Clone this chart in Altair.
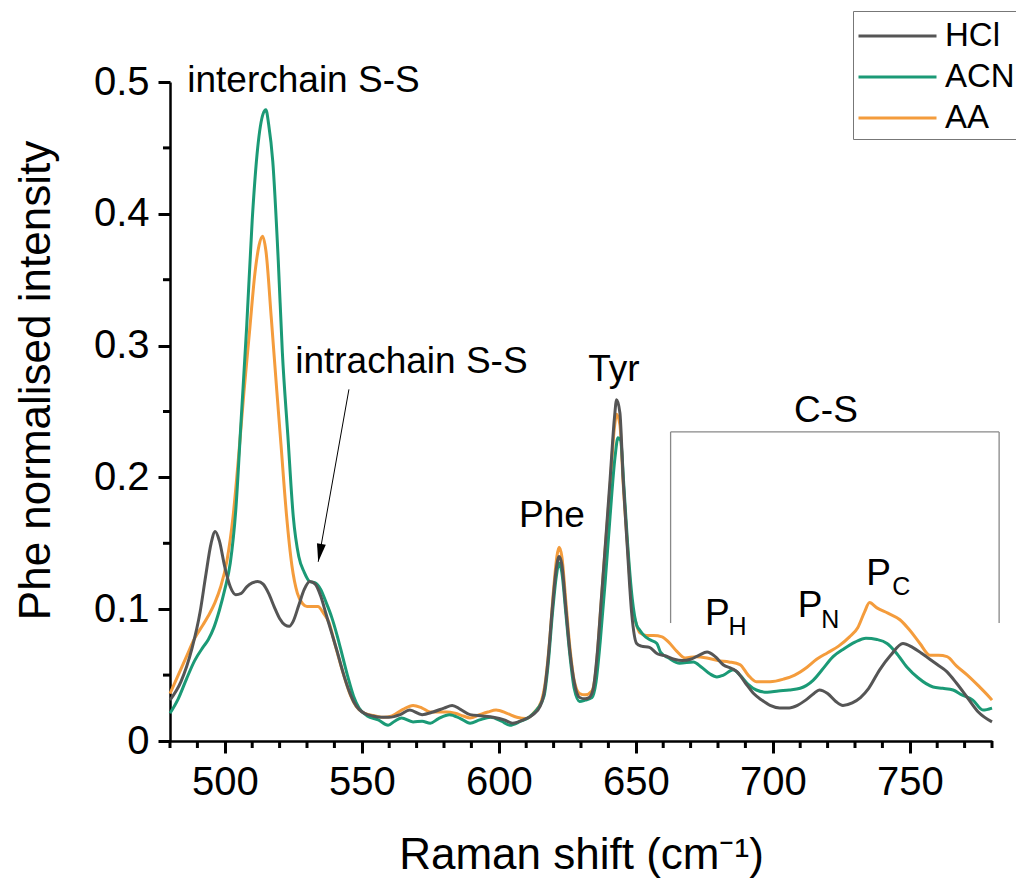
import altair as alt
import pandas as pd

# ---------------- data ----------------
hcl_x = [480, 484, 488, 491, 493, 495, 496.5, 498, 500, 502, 504, 506, 508, 510, 512, 514, 516, 518, 520, 522,
         523.5, 525, 527, 529, 531, 533, 535, 537, 539, 541, 543, 545, 547, 549, 551, 554, 557, 560, 564, 567.5,
         572, 576, 580, 583, 586, 589.5, 594, 598, 602, 605, 609, 612.5, 615, 616.5, 618, 619.5, 621, 622, 623,
         624.5, 626, 627.5, 629.5, 631.5, 633, 634.5, 636, 637.5, 639, 640.6, 642.2, 643, 644.2, 645.4, 646.9,
         648.5, 650.3, 652, 655, 658, 661, 664, 667, 670, 673, 676, 679, 682, 685, 687, 690, 693, 696, 699,
         702.5, 706, 709, 712, 715, 717, 720, 723, 725.6, 729, 732, 735, 739, 743, 747.5, 751, 754, 756, 760,
         763.6, 767, 771, 775, 780]
hcl_y = [0.031, 0.045, 0.070, 0.098, 0.125, 0.150, 0.159, 0.152, 0.132, 0.117, 0.111, 0.112, 0.117, 0.120, 0.121,
         0.119, 0.112, 0.102, 0.093, 0.088, 0.087, 0.091, 0.103, 0.115, 0.121, 0.119, 0.110, 0.096, 0.082, 0.068,
         0.053, 0.040, 0.030, 0.024, 0.021, 0.019, 0.018, 0.018, 0.020, 0.0235, 0.020, 0.022, 0.025, 0.027, 0.024,
         0.020, 0.019, 0.018, 0.016, 0.0135, 0.016, 0.020, 0.026, 0.036, 0.062, 0.100, 0.131, 0.140, 0.134, 0.100,
         0.067, 0.045, 0.033, 0.032, 0.033, 0.040, 0.068, 0.110, 0.152, 0.198, 0.245, 0.259, 0.249, 0.198, 0.147,
         0.097, 0.074, 0.072, 0.071, 0.066, 0.0645, 0.062, 0.061, 0.062, 0.065, 0.0675, 0.064, 0.0577, 0.055,
         0.0525, 0.044, 0.036, 0.031, 0.027, 0.025, 0.025, 0.027, 0.031, 0.036, 0.0387, 0.036, 0.030, 0.027,
         0.029, 0.033, 0.040, 0.054, 0.065, 0.074, 0.071, 0.067, 0.064, 0.058, 0.0525, 0.044, 0.033, 0.022, 0.0145]

acn_x = [480, 483, 486, 489, 492, 494, 496, 498, 500, 502, 504, 506, 508, 510, 512, 514, 515, 516, 517.5, 519.5,
         521, 523, 525, 527, 529, 531, 533, 535, 537, 539, 541, 543, 545, 547, 549, 552, 556, 559.6, 562, 564.5,
         568.7, 572, 575, 578, 582, 586, 589.5, 593, 597, 601, 604, 608, 611, 614, 616.5, 618, 619.5, 621, 622,
         623, 624.5, 626, 627.5, 629.5, 631.5, 634, 635.5, 637, 638.8, 640.6, 642.4, 643.5, 644.5, 645.6, 647,
         648.7, 650.3, 651.5, 653, 655, 657.7, 659, 662, 666, 671, 674, 677, 679.6, 682, 685.5, 688, 691, 694,
         698, 702, 706, 710, 714.7, 718, 722, 726, 730, 734, 738, 741.7, 745, 749, 753, 758.5, 762, 765.8, 769,
         773, 776.7, 780]
acn_y = [0.021, 0.032, 0.047, 0.061, 0.071, 0.077, 0.086, 0.099, 0.115, 0.135, 0.175, 0.245, 0.315, 0.395, 0.450,
         0.476, 0.479, 0.468, 0.440, 0.365, 0.295, 0.232, 0.170, 0.140, 0.128, 0.121, 0.120, 0.115, 0.105, 0.094,
         0.080, 0.064, 0.048, 0.034, 0.025, 0.019, 0.016, 0.012, 0.015, 0.0175, 0.0145, 0.015, 0.0135, 0.017,
         0.020, 0.017, 0.0135, 0.016, 0.018, 0.015, 0.012, 0.015, 0.018, 0.024, 0.034, 0.058, 0.095, 0.125, 0.135,
         0.128, 0.096, 0.064, 0.040, 0.030, 0.031, 0.033, 0.045, 0.075, 0.120, 0.170, 0.215, 0.230, 0.228, 0.195,
         0.150, 0.108, 0.088, 0.084, 0.080, 0.077, 0.074, 0.0675, 0.063, 0.059, 0.060, 0.056, 0.051, 0.0486,
         0.050, 0.054, 0.050, 0.043, 0.0387, 0.037, 0.038, 0.0387, 0.040, 0.046, 0.054, 0.064, 0.070, 0.075,
         0.078, 0.077, 0.074, 0.067, 0.056, 0.048, 0.041, 0.040, 0.0387, 0.035, 0.031, 0.0235, 0.025]

aa_x = [480, 483, 486, 489, 492, 494, 496.4, 498.5, 500.8, 503, 505, 507, 509, 511, 512.5, 513.8, 515, 517, 519,
        520.5, 522.5, 524.5, 526.5, 528.5, 530, 532, 534, 536, 538, 540, 542, 544, 546, 548, 551, 555, 558, 561,
        565, 568.7, 572, 575, 578, 581, 584, 587, 589.5, 593, 596, 599, 603, 606.6, 610, 613, 615.5, 617, 618.5,
        620, 621.2, 622, 623, 624.5, 626, 627.5, 629.5, 631.5, 634, 635.5, 637, 638.8, 640.6, 642.2, 643, 644.2,
        645.4, 646.9, 648.5, 650, 651.5, 654, 656.5, 659.6, 662, 665, 668, 672, 676, 680, 684, 688, 691, 694,
        699, 704, 708, 712.5, 716, 720, 724, 728, 731, 733.5, 735.3, 738, 742, 746.4, 750, 753.7, 757.4, 760.5,
        763.6, 767, 771, 775, 779, 780]
aa_y = [0.036, 0.050, 0.064, 0.078, 0.088, 0.095, 0.105, 0.117, 0.137, 0.170, 0.215, 0.265, 0.310, 0.355, 0.376,
        0.383, 0.372, 0.320, 0.265, 0.225, 0.172, 0.133, 0.112, 0.104, 0.102, 0.102, 0.102, 0.097, 0.090, 0.075,
        0.060, 0.046, 0.034, 0.026, 0.021, 0.019, 0.018, 0.019, 0.024, 0.027, 0.025, 0.022, 0.022, 0.022, 0.021,
        0.019, 0.0175, 0.020, 0.022, 0.0235, 0.021, 0.018, 0.017, 0.022, 0.030, 0.045, 0.075, 0.115, 0.140, 0.147,
        0.140, 0.105, 0.070, 0.046, 0.036, 0.035, 0.038, 0.055, 0.095, 0.145, 0.193, 0.238, 0.248, 0.240, 0.195,
        0.150, 0.105, 0.090, 0.082, 0.080, 0.080, 0.079, 0.075, 0.068, 0.063, 0.064, 0.063, 0.061, 0.060, 0.058,
        0.050, 0.045, 0.045, 0.047, 0.050, 0.056, 0.062, 0.067, 0.072, 0.079, 0.086, 0.098, 0.105, 0.101, 0.097,
        0.092, 0.084, 0.074, 0.065, 0.065, 0.064, 0.057, 0.050, 0.042, 0.0334, 0.031]

series_names = ["HCl", "ACN", "AA"]
series_colors = ["#555555", "#1b9a76", "#f49c3c"]

x_major = [500, 550, 600, 650, 700, 750]
x_minor = [480, 490, 510, 520, 530, 540, 560, 570, 580, 590, 610, 620, 630, 640, 660, 670, 680, 690,
           710, 720, 730, 740, 760, 770, 780]
y_major = [0, 0.1, 0.2, 0.3, 0.4, 0.5]
y_minor = [0.05, 0.15, 0.25, 0.35, 0.45]

# annotations (data coordinates)
ann_text = ["interchain S-S", "intrachain S-S", "Phe", "Tyr", "C-S", "P", "H", "P", "N", "P", "C"]
ann_x = [528.7, 568.1, 619.4, 642.0, 719.4, 679.8, 687.1, 713.6, 721.0, 738.6, 746.9]
ann_y = [0.4924, 0.2792, 0.1624, 0.2731, 0.242, 0.088, 0.0804, 0.0941, 0.0857, 0.1184, 0.1108]
ann_size = [37, 37, 37, 37, 37, 37, 25, 37, 25, 37, 25]

bracket_x = [662.7, 662.7, 782.6]
bracket_x2 = [782.6, 662.7, 782.6]
bracket_y = [0.2345, 0.2345, 0.2345]
bracket_y2 = [0.2345, 0.0895, 0.0895]

arrow_start = (545.3, 0.2668)
arrow_tip = (534.1, 0.136)

# ---------------- frames ----------------
rows = []
for name, xs_, ys_ in [("AA", aa_x, aa_y), ("ACN", acn_x, acn_y), ("HCl", hcl_x, hcl_y)]:
    for i, (xv, yv) in enumerate(zip(xs_, ys_)):
        rows.append({"solvent": name, "shift": xv, "intensity": yv, "idx": i})
df = pd.DataFrame(rows)

ann_df = pd.DataFrame({"text": ann_text, "x": ann_x, "y": ann_y, "fs": ann_size})
br_df = pd.DataFrame({"x": bracket_x, "x2": bracket_x2, "y": bracket_y, "y2": bracket_y2})
arr_df = pd.DataFrame({"x": [arrow_start[0]], "y": [arrow_start[1]],
                       "x2": [arrow_tip[0]], "y2": [arrow_tip[1]]})
tip_df = pd.DataFrame({"x": [arrow_tip[0]], "y": [arrow_tip[1]]})
xmin_df = pd.DataFrame({"v": x_minor})
ymin_df = pd.DataFrame({"v": y_minor})

FONT = "Liberation Sans"
xs = alt.Scale(domain=[480, 780], nice=False, zero=False)
ys = alt.Scale(domain=[0, 0.5], nice=False, zero=True)

x_axis = alt.Axis(
    values=x_major, format="d", tickSize=12, tickColor="black", tickWidth=3,
    domainColor="black", domainWidth=2.5,
    labelPadding=9, labelOverlap=False, labelFlush=False,
    title="Raman shift (cm⁻¹)", titleY=127, titleBaseline="alphabetic",
)
y_axis = alt.Axis(
    values=y_major, labelExpr="datum.value == 0 ? '0' : format(datum.value, '.1f')",
    tickSize=12, tickColor="black", tickWidth=3, domainColor="black", domainWidth=2.5,
    labelPadding=9, labelOverlap=False, labelFlush=False,
    title="Phe normalised intensity", titleX=-121, titleY=298, titleBaseline="alphabetic",
    titleAngle=-90, titleAlign="center",
)

lines = alt.Chart(df).mark_line(strokeWidth=3, interpolate="monotone").encode(
    x=alt.X("shift:Q", scale=xs, axis=x_axis),
    y=alt.Y("intensity:Q", scale=ys, axis=y_axis),
    color=alt.Color("solvent:N",
                    scale=alt.Scale(domain=series_names, range=series_colors),
                    legend=alt.Legend(title=None, orient="none", legendX=683, legendY=-71,
                                      symbolType="M-1,0H3", symbolSize=1521, symbolStrokeWidth=3,
                                      labelFontSize=33, labelFont=FONT, labelColor="black",
                                      labelOffset=46, strokeColor="#777777", fillColor="white",
                                      padding=4, rowPadding=3)),
    order=alt.Order("idx:Q"),
)

x_minor_ticks = alt.Chart(xmin_df).mark_rule(color="black", strokeWidth=3).encode(
    x=alt.X("v:Q", scale=xs), y=alt.value(659), y2=alt.value(666))
y_minor_ticks = alt.Chart(ymin_df).mark_rule(color="black", strokeWidth=3).encode(
    y=alt.Y("v:Q", scale=ys), x=alt.value(0), x2=alt.value(-7))

bracket = alt.Chart(br_df).mark_rule(color="#888888", strokeWidth=1.3).encode(
    x=alt.X("x:Q", scale=xs), x2="x2:Q", y=alt.Y("y:Q", scale=ys), y2="y2:Q")

arrow = alt.Chart(arr_df).mark_rule(color="black", strokeWidth=1).encode(
    x=alt.X("x:Q", scale=xs), x2="x2:Q", y=alt.Y("y:Q", scale=ys), y2="y2:Q")

head = alt.Chart(tip_df).mark_point(shape="M0,0L-0.25,-1L0.25,-1Z", filled=True, size=1296,
                                    angle=10.1, color="black", opacity=1).encode(
    x=alt.X("x:Q", scale=xs), y=alt.Y("y:Q", scale=ys))

texts = alt.Chart(ann_df).mark_text(font=FONT, color="black", align="center", baseline="alphabetic").encode(
    x=alt.X("x:Q", scale=xs), y=alt.Y("y:Q", scale=ys), text="text:N",
    size=alt.Size("fs:Q", scale=None, legend=None))

chart = alt.layer(lines, x_minor_ticks, y_minor_ticks, bracket, arrow, head, texts).properties(
    width=822, height=659,
    padding={"left": 170, "top": 82, "right": 24, "bottom": 138},
    autosize=alt.AutoSizeParams(type="none"),
).configure_axis(
    labelFont=FONT, titleFont=FONT, labelColor="black", titleColor="black",
    grid=False, labelFontSize=40, titleFontSize=44, titleFontWeight="normal",
).configure_view(stroke="transparent")

chart.save("out.html", embed_options={"renderer": "svg", "actions": False})
